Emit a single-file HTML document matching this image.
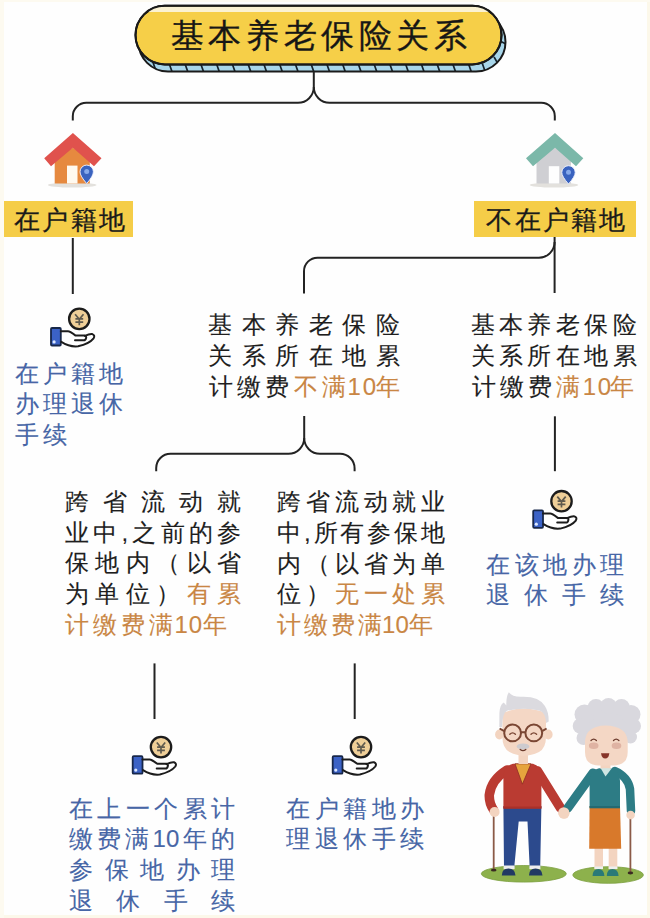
<!DOCTYPE html>
<html><head><meta charset="utf-8">
<style>
html,body{margin:0;padding:0;}
body{width:650px;height:918px;position:relative;overflow:hidden;background:#fefefe;font-family:"Liberation Sans",sans-serif;}
.edge-r{position:absolute;left:647px;top:0;width:3px;height:918px;background:#fcf8ea;}
.edge-l{position:absolute;left:0;top:0;width:4px;height:918px;background:#fdfaf0;}
.edge-t{position:absolute;left:0;top:0;width:650px;height:2px;background:#fdfaf0;}
.edge-b{position:absolute;left:0;top:915px;width:650px;height:3px;background:#fcf8ea;}
svg.main{position:absolute;left:0;top:0;}
.t{position:absolute;font-size:24px;line-height:30px;white-space:nowrap;color:#1e1e1e;-webkit-text-stroke:0.12px currentColor;}
.t div{text-align:justify;text-align-last:justify;}
.t div.l{text-align:left;text-align-last:left;}
.blue{color:#4766a6;}
.or{color:#c98644;}
.title{position:absolute;left:170.7px;top:16.3px;font-size:33px;line-height:40px;color:#161616;white-space:nowrap;letter-spacing:4.63px;-webkit-text-stroke:0.35px #161616;}
.lab{position:absolute;top:200.5px;height:36.7px;background:#f5cd48;}
.lab span{position:absolute;top:4px;font-size:26px;line-height:30px;color:#1a1a1a;white-space:nowrap;-webkit-text-stroke:0.3px #1a1a1a;}
</style></head><body>
<div class="edge-r"></div><div class="edge-b"></div><div class="edge-l"></div><div class="edge-t"></div>

<svg class="main" width="650" height="918" viewBox="0 0 650 918">
  <defs>
    <g id="hand">
      <circle cx="29.5" cy="12.2" r="10.2" fill="#efcf98" stroke="#1c1c1c" stroke-width="2.3"/>
      <path d="M25.3 7.6 L29.5 12.6 L33.7 7.6 M25.6 12.2 H33.4 M25.6 15.4 H33.4 M29.5 12.6 V18.6" fill="none" stroke="#5f5a4e" stroke-width="1.7"/>
      <rect x="1.2" y="21.3" width="9.8" height="17.5" rx="1" fill="#3b62c6" stroke="#17274a" stroke-width="1.8"/>
      <circle cx="4.3" cy="35.2" r="1.6" fill="#dbe7ff"/>
      <path d="M11 24.6 H18.2 Q20 24.6 25.8 28.9 H35 Q37 29.6 36.2 31.6 Q35.8 33.6 34 33.6 H25.2" fill="none" stroke="#1c1c1c" stroke-width="2" stroke-linecap="round" stroke-linejoin="round"/>
      <path d="M35 29.2 Q40 27 42.5 27.4 Q45.6 28.6 43.8 31.6 Q39.5 37 28.3 39.6 Q20 40.6 11.5 35.2" fill="none" stroke="#1c1c1c" stroke-width="2" stroke-linecap="round" stroke-linejoin="round"/>
    </g>
  </defs>

  <!-- title pill -->
  <clipPath id="bclip"><rect x="138.5" y="12.5" width="367" height="59" rx="29.5"/></clipPath>
  <clipPath id="yclip"><rect x="135.5" y="5.8" width="366" height="58.6" rx="29.3"/></clipPath>
  <rect x="138.5" y="12.5" width="367" height="59" rx="29.5" fill="#a8d6ea"/>
  <g stroke="#15232e" stroke-width="1.7" clip-path="url(#bclip)"><line x1="152.85" y1="62" x2="156.75" y2="73"/><line x1="168.60" y1="62" x2="172.50" y2="73"/><line x1="184.35" y1="62" x2="188.25" y2="73"/><line x1="200.10" y1="62" x2="204.00" y2="73"/><line x1="215.85" y1="62" x2="219.75" y2="73"/><line x1="231.60" y1="62" x2="235.50" y2="73"/><line x1="247.35" y1="62" x2="251.25" y2="73"/><line x1="263.10" y1="62" x2="267.00" y2="73"/><line x1="278.85" y1="62" x2="282.75" y2="73"/><line x1="294.60" y1="62" x2="298.50" y2="73"/><line x1="310.35" y1="62" x2="314.25" y2="73"/><line x1="326.10" y1="62" x2="330.00" y2="73"/><line x1="341.85" y1="62" x2="345.75" y2="73"/><line x1="357.60" y1="62" x2="361.50" y2="73"/><line x1="373.35" y1="62" x2="377.25" y2="73"/><line x1="389.10" y1="62" x2="393.00" y2="73"/><line x1="404.85" y1="62" x2="408.75" y2="73"/><line x1="420.60" y1="62" x2="424.50" y2="73"/><line x1="436.35" y1="62" x2="440.25" y2="73"/><line x1="452.10" y1="62" x2="456.00" y2="73"/><line x1="467.85" y1="62" x2="471.75" y2="73"/>
    <line x1="482.3" y1="63.5" x2="484.8" y2="70.5"/>
    <line x1="494" y1="56.8" x2="497.5" y2="63"/>
    <line x1="501.4" y1="41.7" x2="506" y2="44"/>
  </g>
  <rect x="138.5" y="12.5" width="367" height="59" rx="29.5" fill="none" stroke="#1a1a1a" stroke-width="2"/>
  <rect x="135.5" y="5.8" width="366" height="58.6" rx="29.3" fill="#f6cf48" stroke="#1a1a1a" stroke-width="2"/>
  <rect x="130" y="6.8" width="380" height="5.2" fill="#fbf2d2" clip-path="url(#yclip)"/>
  <rect x="135.5" y="5.8" width="366" height="58.6" rx="29.3" fill="none" stroke="#1a1a1a" stroke-width="2"/>

  <!-- connectors -->
  <g fill="none" stroke="#232323" stroke-width="2" stroke-linecap="butt">
    <path d="M313.8 71.5 V87 A15.8 15.8 0 0 1 298 102.8 H86.3 A13.5 13.5 0 0 0 72.8 116.3 V120.6"/>
    <path d="M313.8 87 A15.8 15.8 0 0 0 329.6 102.8 H541.3 A13.5 13.5 0 0 1 554.8 116.3 V120.6"/>
    <path d="M72.8 238 V294"/>
    <path d="M554.6 237 V293"/>
    <path d="M554.6 242 A15.7 15.7 0 0 1 538.9 257.7 H317.5 A13.5 13.5 0 0 0 304 271.2 V293.5"/>
    <path d="M304.2 416 V438 A15.8 15.8 0 0 1 288.4 453.8 H170.5 A14.3 14.3 0 0 0 156.2 468.1 V471.2"/>
    <path d="M304.2 438 A15.8 15.8 0 0 0 320 453.8 H340 A14.6 14.6 0 0 1 354.6 468.4 V471.2"/>
    <path d="M554.9 416.3 V471.2"/>
    <path d="M154.5 663.4 V719"/>
    <path d="M354.7 663.4 V719"/>
  </g>

  <!-- houses -->
  <g id="house1">
    <ellipse cx="72.2" cy="185" rx="24.3" ry="2.6" fill="#e3e1dd"/>
    <path d="M54.7 157 L72.9 147.8 L89.8 157 V183.5 H54.7 Z" fill="#e6893f"/>
    <path d="M44.2 158.2 L72.9 133 L101.5 158.2 L94 166.2 L72.9 147.8 L51 166.2 Z" fill="#e0524d"/>
    <rect x="67" y="165.6" width="10.5" height="17.9" fill="#fff9ef"/>
    <path d="M86.7 183.5 Q80 176 80 171.8 A6.7 6.7 0 0 1 93.4 171.8 Q93.4 176 86.7 183.5 Z" fill="#3a63bf" stroke="#f2f4ff" stroke-width="0.9"/>
    <circle cx="86.7" cy="171.6" r="2.5" fill="#86a9ea"/>
  </g>
  <g id="house2">
    <ellipse cx="554" cy="185" rx="24.3" ry="2.6" fill="#e3e1dd"/>
    <path d="M536.5 157 L555 147.8 L571 157 V183.5 H536.5 Z" fill="#cfcfd3"/>
    <path d="M526 158.2 L555 133 L583.3 158.2 L576 166.2 L555 147.8 L533 166.2 Z" fill="#7bb8a9"/>
    <rect x="548.8" y="166.2" width="10.5" height="17.3" fill="#fefefe"/>
    <path d="M568.5 184 Q561.8 176.5 561.8 172.4 A6.7 6.7 0 0 1 575.2 172.4 Q575.2 176.5 568.5 184 Z" fill="#3a63bf" stroke="#f2f4ff" stroke-width="0.9"/>
    <circle cx="568.5" cy="172.2" r="2.5" fill="#86a9ea"/>
  </g>

  <!-- hand icons -->
  <use href="#hand" x="49.8" y="306.7"/>
  <use href="#hand" x="532" y="489"/>
  <use href="#hand" x="131.5" y="734.9"/>
  <use href="#hand" x="331.5" y="734.9"/>

  <!-- couple placeholder -->
  
  <g id="couple">
    <!-- man -->
    <ellipse cx="523.8" cy="873.8" rx="42.5" ry="8.3" fill="#8db14c" stroke="#7c9f40" stroke-width="0.8"/>
    <line x1="493.7" y1="812" x2="493.7" y2="869.5" stroke="#8b5a47" stroke-width="1.8"/>
    <ellipse cx="493.7" cy="870.2" rx="2.8" ry="1.4" fill="#3a2a22"/>
    <path d="M503.4 806 H541.4 L540.2 867.5 H529.7 L527.5 821.5 H518.7 L514.2 867.5 H504 Z" fill="#2c4a8d"/>
    <rect x="503.6" y="865.5" width="11" height="3.6" fill="#eeeeee"/>
    <rect x="529.4" y="865.5" width="11" height="3.6" fill="#eeeeee"/>
    <path d="M501.8 875.5 Q501.8 868.5 508.5 868.5 Q515 868.5 515.5 875.5 Z" fill="#213a63"/>
    <path d="M529 875.5 Q529 868.5 535.5 868.5 Q542 868.5 542.5 875.5 Z" fill="#213a63"/>
    <path d="M507 770 Q491 780 489.3 795 Q489 803 493.6 810" fill="none" stroke="#ba3b32" stroke-width="9.5" stroke-linecap="round" stroke-linejoin="round"/>
    <path d="M537.5 771 L560.5 808" fill="none" stroke="#ba3b32" stroke-width="9.5" stroke-linecap="round"/>
    <path d="M503.4 808.3 V777 Q503.4 766 513 763.8 H533 Q541.4 766 541.4 777 V808.3 Z" fill="#ba3b32"/>
    <path d="M503.4 806.5 H541.4 V808.8 H503.4 Z" fill="#a93029"/>
    <path d="M515 763.8 H531 L522.4 784.2 Z" fill="#e6a43d" stroke="#8e2c24" stroke-width="0.8"/>
    <circle cx="494.6" cy="812" r="5" fill="#f3d4c0"/>
    <circle cx="564" cy="813.3" r="5.5" fill="#f3d4c0"/>
    <rect x="518.5" y="750" width="9.5" height="14" fill="#f3d4c0"/>
    <ellipse cx="499.4" cy="734.5" rx="4.3" ry="5" fill="#f3d4c0"/>
    <ellipse cx="548.3" cy="734.5" rx="4.3" ry="5" fill="#f3d4c0"/>
    <path d="M502.4 713 Q524 704 546 713 V737 Q546 748 539 752 Q531 755.8 524.2 755.8 Q517 755.8 509.5 752 Q502.4 748 502.4 737 Z" fill="#f4d7c5"/>
    <path d="M499.3 727 L499.4 713 Q499.6 705 503.8 702.5 L506.3 705.5 Q506 697 508.8 692.3 Q512.5 697 521 696.8 Q539 696 544.9 706 Q548.8 712 548.7 721.5 L546.2 723 Q545.5 713 540 710.8 Q524 706.5 507 710.8 Q502.5 713 502 727 Z" fill="#dbdadf"/>
    <g fill="none" stroke="#7a4633" stroke-width="2">
      <circle cx="512.6" cy="732.9" r="8.4"/>
      <circle cx="533.8" cy="732.9" r="8.4"/>
      <path d="M521 732.2 H525.4 M504.2 731.2 L499.6 728.5 M542.2 731.2 L546.6 728.5"/>
    </g>
    <g fill="none" stroke="#7a4633" stroke-width="1.4" stroke-linecap="round">
      <path d="M509.8 734.3 Q512.6 731.4 515.4 734.3"/>
      <path d="M531 734.3 Q533.8 731.4 536.6 734.3"/>
    </g>
    <ellipse cx="523" cy="746.4" rx="6.3" ry="3" fill="#cdcbcf"/>
    <path d="M520.2 749.5 Q523 751.8 525.8 749.5" fill="none" stroke="#6b3a2c" stroke-width="1.3" stroke-linecap="round"/>

    <!-- woman -->
    <ellipse cx="608.1" cy="875" rx="35.3" ry="8.3" fill="#8db14c" stroke="#7c9f40" stroke-width="0.8"/>
    <line x1="630.4" y1="816" x2="630.4" y2="872.5" stroke="#8b5a47" stroke-width="1.8"/>
    <ellipse cx="630.4" cy="873" rx="2.8" ry="1.4" fill="#3a2a22"/>
    <rect x="594.5" y="846" width="8.5" height="23" fill="#f3d4c0"/>
    <rect x="608.7" y="846" width="8.6" height="23" fill="#f3d4c0"/>
    <rect x="594.5" y="866.5" width="8.5" height="2.6" fill="#eeeeee"/>
    <rect x="608.7" y="866.5" width="8.6" height="2.6" fill="#eeeeee"/>
    <path d="M592.6 876 Q592.6 869 598.5 869 Q604 869 604.4 876 Z" fill="#2a7a78"/>
    <path d="M606.8 876 Q606.8 869 612.5 869 Q618.2 869 618.6 876 Z" fill="#2a7a78"/>
    <path d="M589.6 806 H620 L621.2 848.8 H589.2 Z" fill="#d8792b"/>
    <path d="M593 773 L567.8 808" fill="none" stroke="#2d7c85" stroke-width="9" stroke-linecap="round"/>
    <path d="M615 771 Q628 777 630 789 L631 811" fill="none" stroke="#2d7c85" stroke-width="8.5" stroke-linecap="round" stroke-linejoin="round"/>
    <path d="M589.6 807.8 V781 Q589.6 770 599 768.3 H611 Q620 770 620 781 V807.8 Z" fill="#2d7c85"/>
    <path d="M589.6 806 H620 V808.3 H589.6 Z" fill="#236a72"/>
    <circle cx="563.8" cy="812.8" r="5.6" fill="#f3d4c0"/>
    <circle cx="630.6" cy="815" r="4.3" fill="#f3d4c0"/>
    <rect x="600.5" y="760" width="10" height="9" fill="#f3d4c0"/>
    <path d="M600.7 768.3 L605.5 776.6 L611.8 768.3 Z" fill="#cfe6e3"/>
    <g fill="#d9d8de">
      <ellipse cx="607" cy="723" rx="28" ry="18"/>
      <circle cx="584.5" cy="714.5" r="10"/>
      <circle cx="596" cy="707.5" r="8.5"/>
      <circle cx="608.5" cy="706" r="8"/>
      <circle cx="621.5" cy="707.5" r="8.5"/>
      <circle cx="631" cy="714.5" r="9.5"/>
      <circle cx="633.5" cy="726" r="7.5"/>
      <circle cx="580.5" cy="726" r="7.8"/>
      <circle cx="583.5" cy="738" r="7"/>
      <circle cx="630.5" cy="737" r="6.5"/>
    </g>
    <path d="M585 741 Q586 726 605.5 725.5 Q626.5 726 627.7 741 V752 Q627.7 765.4 613 765.4 H599 Q585 765.4 585 752 Z" fill="#f4d7c5"/>
    <g fill="none" stroke="#6b3a2c" stroke-width="1.3" stroke-linecap="round">
      <path d="M591 740.5 Q593.7 737.8 596.4 740.5"/>
      <path d="M613.5 740.5 Q616.2 737.8 618.9 740.5"/>
    </g>
    <ellipse cx="593.7" cy="745.8" rx="4.8" ry="3.2" fill="#dfb3a3"/>
    <ellipse cx="616.5" cy="745.8" rx="4.8" ry="3.2" fill="#dfb3a3"/>
    <path d="M601 753.3 H609.4 Q608.6 758.6 605.2 758.6 Q601.8 758.6 601 753.3 Z" fill="#87352a"/>
  </g>
</svg>

<!-- title -->
<div class="title">基本养老保险关系</div>

<!-- labels -->
<div class="lab" style="left:4.1px;width:129.3px;"><span style="left:10px;letter-spacing:2.3px">在户籍地</span></div>
<div class="lab" style="left:474.3px;width:161.7px;"><span style="left:12px;letter-spacing:2.3px">不在户籍地</span></div>

<!-- left blue -->
<div class="t blue" style="left:14.5px;top:358.6px;letter-spacing:4px;line-height:30.75px;">
  <div class="l">在户籍地</div><div class="l">办理退休</div><div class="l">手续</div>
</div>

<!-- middle -->
<div class="t" style="left:208px;top:308.5px;width:192px;line-height:31px;">
  <div>基本养老保险</div><div>关系所在地累</div><div class="l" style="margin-left:0.7px"><span style="letter-spacing:4.3px">计缴费</span><span class="or"><span style="letter-spacing:4.3px">不</span><span style="letter-spacing:1.6px">满</span><span style="letter-spacing:1.8px">1</span><span style="letter-spacing:0px">0</span>年</span></div>
</div>

<!-- right -->
<div class="t" style="left:470.7px;top:308.5px;width:166px;line-height:31px;">
  <div>基本养老保险</div><div>关系所在地累</div><div class="l" style="margin-left:0.9px"><span style="letter-spacing:4.17px">计缴费</span><span class="or"><span style="letter-spacing:2.6px">满</span><span style="letter-spacing:1.56px">1</span><span style="letter-spacing:-0.8px">0</span>年</span></div>
</div>

<!-- block 4 -->
<div class="t" style="left:64.8px;top:486.9px;width:176.6px;line-height:30.75px;">
  <div>跨省流动就</div><div>业中,之前的参</div><div>保地内（以省</div><div>为单位）<span class="or">有累</span></div><div class="l or"><span style="letter-spacing:4.1px">计缴费</span><span style="letter-spacing:1.3px">满</span><span style="letter-spacing:0.9px">1</span><span style="letter-spacing:1.3px">0</span>年</div>
</div>

<!-- block 5 -->
<div class="t" style="left:277px;top:487.2px;width:168.2px;line-height:30.75px;">
  <div>跨省流动就业</div><div>中,所有参保地</div><div>内（以省为单</div><div>位）<span class="or">无一处累</span></div><div class="l or"><span style="letter-spacing:3px">计缴费</span><span style="letter-spacing:0px">满</span><span style="letter-spacing:0.2px">1</span><span style="letter-spacing:0.5px">0</span>年</div>
</div>

<!-- right blue -->
<div class="t blue" style="left:486px;top:549.7px;width:138px;">
  <div>在该地办理</div><div>退休手续</div>
</div>

<!-- bottom-left blue -->
<div class="t blue" style="left:69px;top:793.6px;width:166px;line-height:30.75px;">
  <div>在上一个累计</div><div>缴费满10年的</div><div>参保地办理</div><div>退休手续</div>
</div>

<!-- bottom-right blue -->
<div class="t blue" style="left:286px;top:793.8px;width:138px;">
  <div>在户籍地办</div><div>理退休手续</div>
</div>

</body></html>
